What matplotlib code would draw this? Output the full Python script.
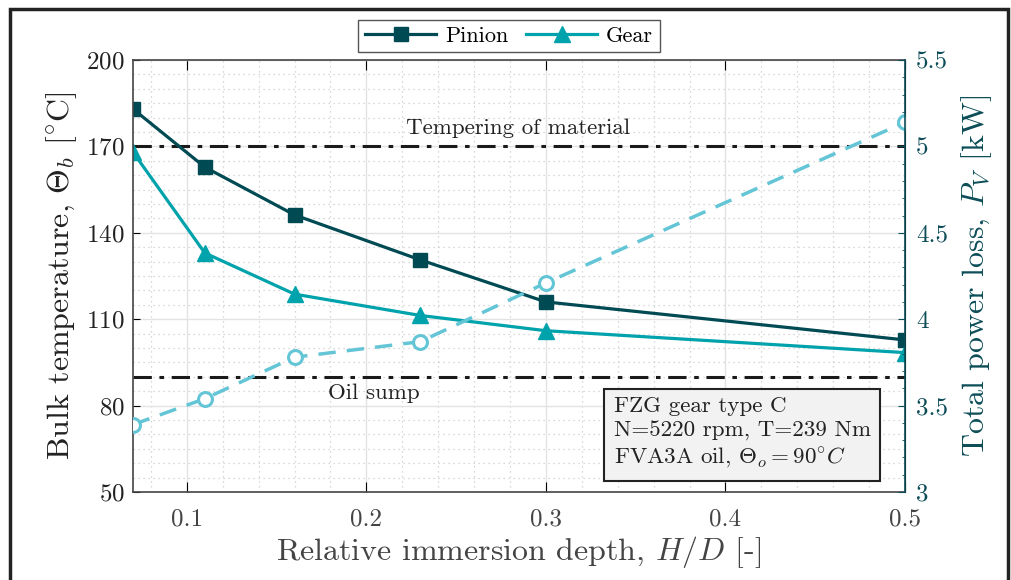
import numpy as np
import matplotlib
matplotlib.use('Agg')
import matplotlib.pyplot as plt
from matplotlib.patches import Rectangle
from matplotlib.ticker import MultipleLocator, FuncFormatter

plt.rcParams['font.family'] = ['cmr10']
plt.rcParams['mathtext.fontset'] = 'cm'
plt.rcParams['axes.formatter.use_mathtext'] = True

# data
depth = [0.07, 0.11, 0.16, 0.23, 0.30, 0.50]
temp_pinion = [183.0, 162.8, 146.2, 130.6, 116.0, 102.8]
temp_gear = [168.0, 133.0, 118.7, 111.3, 106.0, 98.4]
power_loss = [3.39, 3.54, 3.78, 3.87, 4.21, 5.14]
tempering_limit = 170
oil_sump = 90

c_pinion = '#004b53'
c_gear = '#00a2ab'
c_loss = '#63c5d5'
c_axis2 = '#0c4d57'

fig = plt.figure(figsize=(10.12, 5.8), dpi=100)
ax = fig.add_axes([133/1012, 88/580, 772/1012, 432/580])

# grid
ax.set_axisbelow(True)
ax.xaxis.set_minor_locator(MultipleLocator(0.02))
ax.yaxis.set_minor_locator(MultipleLocator(5))
ax.grid(which='major', color='#e3e3e3', lw=1.0)
ax.grid(which='minor', color='#cccccc', lw=0.9, ls=(0, (1, 3)))

# reference lines
ax.axhline(tempering_limit, color='#1a1a1a', lw=2.2, ls=(0, (6, 2.5, 1.5, 2.5)))
ax.axhline(oil_sump, color='#1a1a1a', lw=2.2, ls=(0, (6, 2.5, 1.5, 2.5)))
ax.text(0.2845, 176.3, 'Tempering of material', ha='center', va='center', fontsize=16.5, color='#222222')
ax.text(0.204, 84.2, 'Oil sump', ha='center', va='center', fontsize=16.5, color='#222222')

l1, = ax.plot(depth, temp_pinion, color=c_pinion, lw=2.3, marker='s', ms=10, label='Pinion')
l2, = ax.plot(depth, temp_gear, color=c_gear, lw=2.3, marker='^', ms=12, label='Gear')

ax.set_xlim(0.07, 0.5)
ax.set_ylim(50, 200)
ax.set_xticks([0.1, 0.2, 0.3, 0.4, 0.5])
ax.set_yticks([50, 80, 110, 140, 170, 200])
ax.xaxis.set_major_formatter(FuncFormatter(lambda v, p: '%g' % v))
ax.tick_params(axis='both', which='both', direction='in', top=True)
ax.tick_params(axis='x', which='major', labelsize=18, labelcolor='#444444', length=7, pad=12)
ax.tick_params(axis='x', which='minor', length=0)
ax.tick_params(axis='y', which='major', labelsize=18, labelcolor='#222222', length=5, pad=6)
ax.tick_params(axis='y', which='minor', length=0)
ax.set_xlabel('Relative immersion depth, $H/D$ [-]', fontsize=23, color='#444444', labelpad=2)
ax.set_ylabel(r'Bulk temperature, $\Theta_b$ $[^{\circ}\mathrm{C}]$', fontsize=23, color='#222222', labelpad=5)
for s in ['left', 'bottom', 'top']:
    ax.spines[s].set_color('#444444')
    ax.spines[s].set_linewidth(1.2)

# power loss on the right axis
ax2 = ax.twinx()
ax2.plot(depth, power_loss, color=c_loss, lw=2.5, ls=(0, (5, 3.2)), marker='o', ms=10,
         mfc='white', mec=c_loss, mew=2.2)
ax2.set_ylim(3, 5.5)
ax2.set_yticks([3, 3.5, 4, 4.5, 5, 5.5])
ax2.yaxis.set_minor_locator(MultipleLocator(0.1))
ax2.yaxis.set_major_formatter(FuncFormatter(lambda v, p: '%g' % v))
ax2.tick_params(axis='y', which='major', direction='in', labelsize=18, labelcolor=c_axis2,
                color=c_axis2, length=5, pad=8)
ax2.tick_params(axis='y', which='minor', direction='in', color=c_axis2, length=2.5)
ax2.set_ylabel('Total power loss, $P_V$ $[\\mathrm{kW}]$', fontsize=23, color=c_axis2, labelpad=8)
ax2.spines['right'].set_color(c_axis2)
ax2.spines['right'].set_linewidth(1.2)
for s in ['left', 'bottom', 'top']:
    ax2.spines[s].set_visible(False)

# info box
ax.text(0.6225, 0.222, 'FZG gear type C\nN=5220 rpm, T=239 Nm\nFVA3A oil, $\\Theta_o = 90^{\\circ}C$',
        transform=ax.transAxes, ha='left', va='top', fontsize=16.6, color='#222222', linespacing=1.32,
        bbox=dict(boxstyle='square,pad=0.42', fc='#f2f2f2', ec='#222222', lw=1.5), zorder=5)

# legend above the plot
leg = fig.legend(handles=[l1, l2], loc='center', bbox_to_anchor=(509/1012, 1 - 36/580), ncol=2,
                 fontsize=16, frameon=True, fancybox=False, framealpha=1, edgecolor='#555555',
                 handlelength=3.2, columnspacing=0.8, handletextpad=0.4, borderpad=0.3)
leg.get_frame().set_linewidth(1.0)

# outer frame of the figure
fig.patches.append(Rectangle((10/1012, -0.05), 998/1012, 1.05 - 9/580, transform=fig.transFigure,
                             fill=False, ec='#222222', lw=2.5, clip_on=False))

fig.savefig('out.png', dpi=100)
